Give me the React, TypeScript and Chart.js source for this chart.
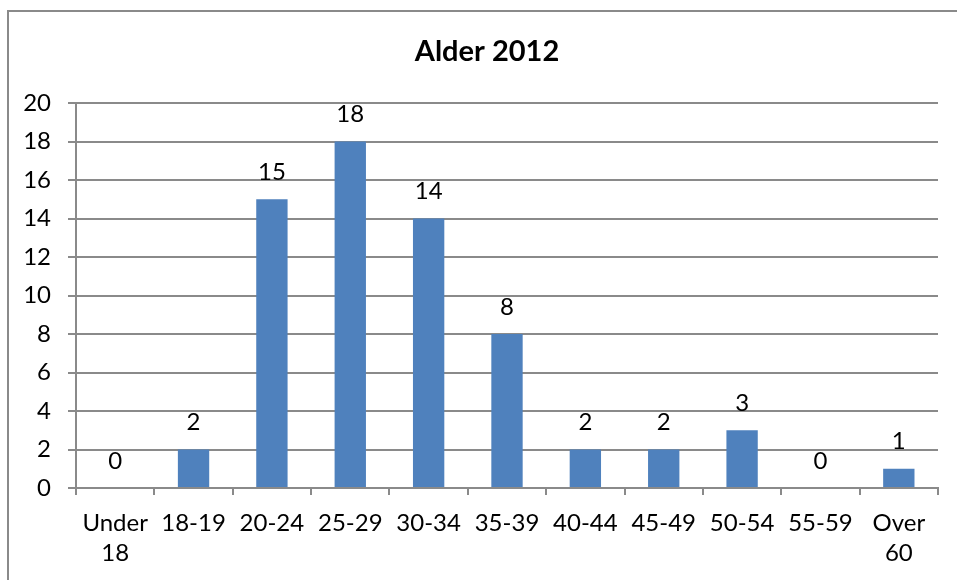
import React, { useEffect, useRef } from "react";
import { Chart, registerables } from "chart.js";

Chart.register(...registerables);

const categories: (string | string[])[] = [
  ["Under", "18"],
  "18-19",
  "20-24",
  "25-29",
  "30-34",
  "35-39",
  "40-44",
  "45-49",
  "50-54",
  "55-59",
  ["Over", "60"],
];
const counts = [0, 2, 15, 18, 14, 8, 2, 2, 3, 0, 1];
const chartTitle = "Alder 2012";

const FONT = "Lato, 'Open Sans', sans-serif";

export default function App() {
  const ref = useRef<HTMLCanvasElement | null>(null);

  useEffect(() => {
    if (!ref.current) return;
    const frame = {
      id: "frame",
      beforeDraw(chart: any) {
        const c = chart.ctx;
        c.save();
        c.fillStyle = "#ffffff";
        c.fillRect(0, 0, chart.width, chart.height);
        c.strokeStyle = "#8a8a8a";
        c.lineWidth = 2;
        c.strokeRect(8, 11, chart.width + 20, chart.height + 20);
        c.fillStyle = "#000";
        c.font = `bold 29px ${FONT}`;
        c.textAlign = "center";
        c.textBaseline = "middle";
        c.fillText(chartTitle, 487, 52);
        c.restore();
      },
    };
    const labels = {
      id: "valueLabels",
      afterDatasetsDraw(chart: any) {
        const c = chart.ctx;
        const meta = chart.getDatasetMeta(0);
        c.save();
        c.fillStyle = "#000";
        c.font = `24px ${FONT}`;
        c.textAlign = "center";
        c.textBaseline = "middle";
        meta.data.forEach((bar: any, i: number) => {
          c.fillText(String(counts[i]), bar.x, bar.y - 27);
        });
        c.restore();
      },
    };
    const chart = new Chart(ref.current, {
      type: "bar",
      data: {
        labels: categories,
        datasets: [
          {
            data: counts,
            backgroundColor: "#4F81BD",
            barPercentage: 0.4,
            categoryPercentage: 1,
          },
        ],
      },
      options: {
        animation: false,
        responsive: false,
        devicePixelRatio: 1,
        layout: { padding: { top: 103, right: 19, left: 0, bottom: 0 } },
        plugins: {
          legend: { display: false },
          title: { display: false },
          tooltip: { enabled: false },
        },
        scales: {
          x: {
            afterFit(scale: any) {
              scale.height = 92;
            },
            grid: {
              offset: true,
              drawOnChartArea: false,
              drawTicks: true,
              tickLength: 7,
              color: "#8a8a8a",
              lineWidth: 2,
            },
            border: { color: "#8a8a8a", width: 2 },
            ticks: {
              color: "#000",
              font: { family: FONT, size: 24, lineHeight: 1.25 },
              padding: 13,
              maxRotation: 0,
              autoSkip: false,
            },
          },
          y: {
            min: 0,
            max: 20,
            afterFit(scale: any) {
              scale.width = 76;
            },
            grid: {
              color: "#8a8a8a",
              lineWidth: 2,
              tickLength: 8,
            },
            border: { color: "#8a8a8a", width: 2 },
            ticks: {
              stepSize: 2,
              color: "#000",
              font: { family: FONT, size: 24 },
              padding: 17,
            },
          },
        },
      },
      plugins: [frame, labels],
    });
    return () => chart.destroy();
  }, []);

  return (
    <div style={{ position: "fixed", left: 0, top: 0, width: 957, height: 580, background: "#fff" }}>
      <canvas ref={ref} width={957} height={580} style={{ display: "block" }} />
    </div>
  );
}
